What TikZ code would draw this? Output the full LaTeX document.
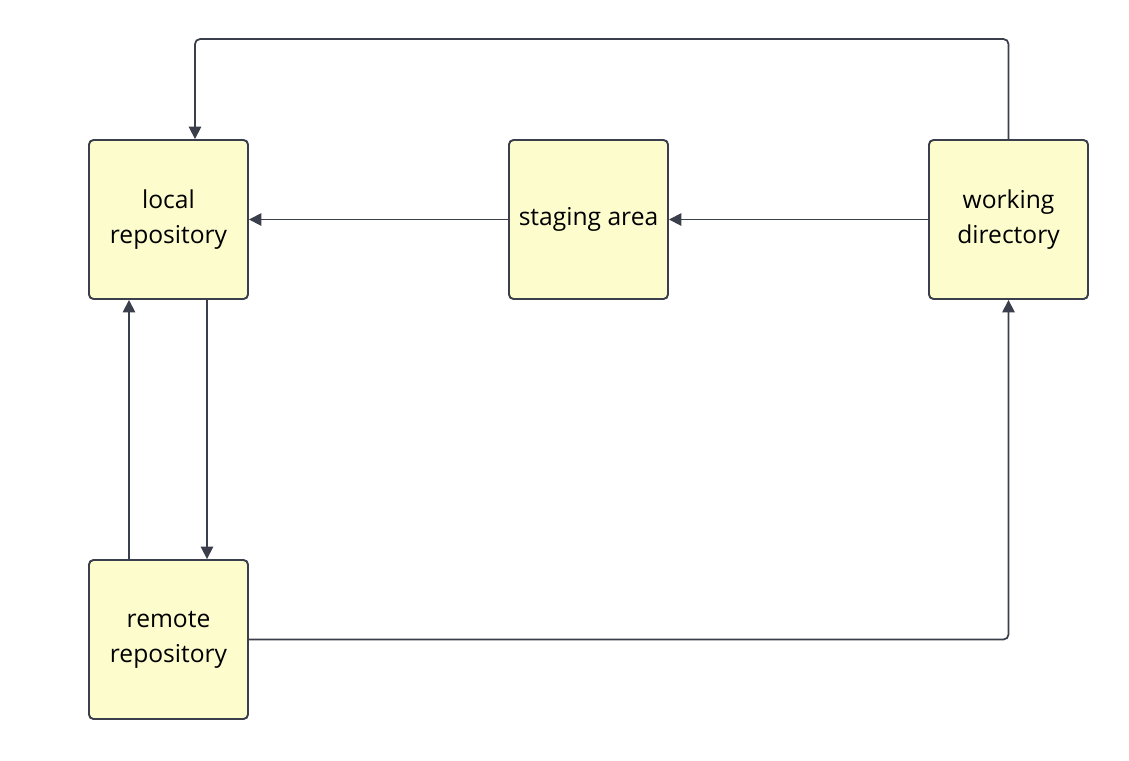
\documentclass[tikz,border=0pt]{standalone}
\usepackage{fontspec}
\setmainfont{Open Sans}
\usetikzlibrary{arrows.meta}
\definecolor{boxfill}{RGB}{253,252,205}
\definecolor{boxline}{RGB}{58,63,75}
\tikzstyle{block} = [rectangle, draw=boxline, fill=boxfill, line width=1.1pt,
    rounded corners=0.09cm, minimum width=3.18cm, minimum height=3.18cm,
    align=center, font=\fontsize{14}{19.8}\selectfont]
\tikzstyle{line} = [draw=boxline, line width=1pt, rounded corners=0.1cm,
    -{Triangle[length=7pt,width=7pt]}]

\begin{document}
\begin{tikzpicture}[node distance = 8.4cm, auto]
\useasboundingbox (-3.37,-10.81) rectangle (19.21,4.39);
    % Place nodes
\node [block] (local) {local\\repository};
\node [block, right of=local] (stage) {staging area};
\node [block, right of=stage] (work) {working\\directory};
\node [block, below of=local] (remote) {remote\\repository};

    % Draw edges
\path [line] (work.north) -- ++(0,2) -| ([xshift=0.53cm]local.north);
\path [line] (work.west) -- (stage.east);
\path [line] (stage.west) -- (local.east);
\path [line] ([xshift=0.77cm]local.south) -- ([xshift=0.77cm]remote.north);
\path [line] ([xshift=-0.79cm]remote.north) -- ([xshift=-0.79cm]local.south);
\path [line] (remote.east) -| (work.south);

\end{tikzpicture}
\end{document}
